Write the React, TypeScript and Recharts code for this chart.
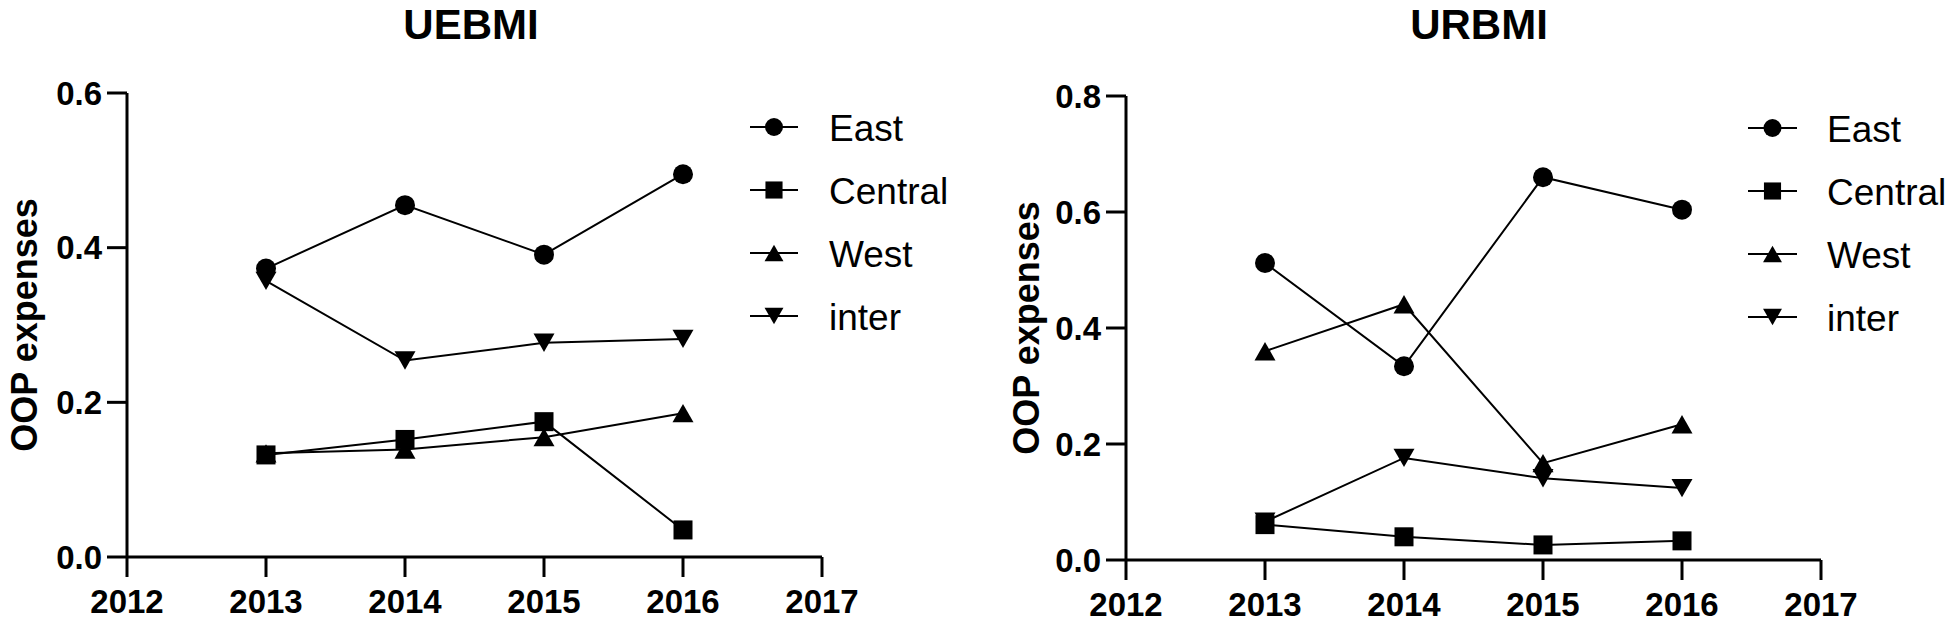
import React from 'react';
import { LineChart, Line, XAxis, YAxis, Label } from 'recharts';

const years = [2013, 2014, 2015, 2016];
const xTicks = [2012, 2013, 2014, 2015, 2016, 2017];
const seriesNames = ['East', 'Central', 'West', 'inter'];

const uebmiEast = [0.373, 0.455, 0.391, 0.495];
const uebmiCentral = [0.132, 0.152, 0.175, 0.035];
const uebmiWest = [0.134, 0.139, 0.155, 0.186];
const uebmiInter = [0.357, 0.254, 0.277, 0.282];
const uebmiYTicks = [0, 0.2, 0.4, 0.6];

const urbmiEast = [0.512, 0.334, 0.66, 0.604];
const urbmiCentral = [0.061, 0.04, 0.026, 0.033];
const urbmiWest = [0.36, 0.441, 0.167, 0.234];
const urbmiInter = [0.066, 0.176, 0.141, 0.124];
const urbmiYTicks = [0, 0.2, 0.4, 0.6, 0.8];

const FONT = '"Liberation Sans", Arial, Helvetica, sans-serif';

type Shape = 'circle' | 'square' | 'triangle' | 'triangleDown';
const shapes: Shape[] = ['circle', 'square', 'triangle', 'triangleDown'];

function buildRows(east: number[], central: number[], west: number[], inter: number[]) {
  return years.map((year, i) => ({
    year,
    East: east[i],
    Central: central[i],
    West: west[i],
    inter: inter[i],
  }));
}

const uebmiData = buildRows(uebmiEast, uebmiCentral, uebmiWest, uebmiInter);
const urbmiData = buildRows(urbmiEast, urbmiCentral, urbmiWest, urbmiInter);

function Marker({ cx, cy, shape, size }: { cx: number; cy: number; shape: Shape; size: number }) {
  const r = size / 2;
  if (cx == null || cy == null) return null;
  if (shape === 'circle') return <circle cx={cx} cy={cy} r={r} fill="#000" />;
  if (shape === 'square')
    return <rect x={cx - r * 0.95} y={cy - r * 0.95} width={size * 0.95} height={size * 0.95} fill="#000" />;
  const w = r * 1.05;
  const h = r * 0.92;
  if (shape === 'triangle')
    return <polygon points={`${cx},${cy - h} ${cx + w},${cy + h} ${cx - w},${cy + h}`} fill="#000" />;
  return <polygon points={`${cx},${cy + h} ${cx + w},${cy - h} ${cx - w},${cy - h}`} fill="#000" />;
}

const axisStroke = { stroke: '#000', strokeWidth: 3 };
const tickStyle = { fill: '#000', fontSize: 33, fontWeight: 'bold', fontFamily: FONT };

function Panel({
  data,
  yTicks,
  width,
  marginTop,
  marginRight,
  yAxisWidth,
  xAxisHeight,
  labelX,
}: {
  data: any[];
  yTicks: number[];
  width: number;
  marginTop: number;
  marginRight: number;
  yAxisWidth: number;
  xAxisHeight: number;
  labelX: number;
}) {
  const drawOrder = [3, 2, 1, 0];
  return (
    <LineChart width={width} height={622} data={data} margin={{ top: marginTop, right: marginRight, bottom: 0, left: 0 }}>
      <XAxis
        dataKey="year"
        type="number"
        domain={[xTicks[0], xTicks[xTicks.length - 1]]}
        ticks={xTicks}
        interval={0}
        height={xAxisHeight}
        axisLine={axisStroke}
        tickLine={axisStroke}
        tickSize={20}
        tickMargin={13}
        tick={tickStyle}
      />
      <YAxis
        type="number"
        domain={[yTicks[0], yTicks[yTicks.length - 1]]}
        ticks={yTicks}
        interval={0}
        width={yAxisWidth}
        axisLine={axisStroke}
        tickLine={axisStroke}
        tickSize={20}
        tickMargin={5}
        tick={tickStyle}
        tickFormatter={(v: number) => v.toFixed(1)}
      >
        <Label
          content={(props: any) => {
            const vb = props.viewBox || {};
            const cy = (vb.y ?? marginTop) + (vb.height ?? 460) / 2;
            const cx = labelX;
            return (
              <text
                x={cx}
                y={cy}
                transform={`rotate(-90 ${cx} ${cy})`}
                textAnchor="middle"
                fontSize={36}
                fontWeight="bold"
                fontFamily={FONT}
                fill="#000"
              >
                OOP expenses
              </text>
            );
          }}
        />
      </YAxis>
      {drawOrder.map((si) => (
        <Line
          key={seriesNames[si]}
          type="linear"
          dataKey={seriesNames[si]}
          stroke="#000"
          strokeWidth={2}
          isAnimationActive={false}
          activeDot={false}
          dot={(p: any) => <Marker key={`${seriesNames[si]}-${p.index}`} cx={p.cx} cy={p.cy} shape={shapes[si]} size={20} />}
        />
      ))}
    </LineChart>
  );
}

function LegendBlock({ lineX1, lineX2, textX, rowYs }: { lineX1: number; lineX2: number; textX: number; rowYs: number[] }) {
  const mx = (lineX1 + lineX2) / 2;
  return (
    <g>
      {seriesNames.map((name, i) => (
        <g key={name}>
          <line x1={lineX1} x2={lineX2} y1={rowYs[i]} y2={rowYs[i]} stroke="#000" strokeWidth={2} />
          <Marker cx={mx} cy={rowYs[i]} shape={shapes[i]} size={18} />
          <text x={textX} y={rowYs[i] + 14} fontSize={37} fontFamily={FONT} fill="#000">
            {name}
          </text>
        </g>
      ))}
    </g>
  );
}

export default function App() {
  return (
    <div style={{ position: 'absolute', left: 0, top: 0, width: 1946, height: 622, background: '#fff', overflow: 'hidden' }}>
      <div style={{ position: 'absolute', left: 0, top: 0 }}>
        <Panel data={uebmiData} yTicks={uebmiYTicks} width={980} marginTop={93} marginRight={158} yAxisWidth={127} xAxisHeight={65} labelX={37} />
      </div>
      <div style={{ position: 'absolute', left: 1000, top: 0 }}>
        <Panel data={urbmiData} yTicks={urbmiYTicks} width={946} marginTop={96} marginRight={125} yAxisWidth={126} xAxisHeight={62} labelX={39} />
      </div>
      <svg width={1946} height={622} style={{ position: 'absolute', left: 0, top: 0, pointerEvents: 'none' }}>
        <text x={471} y={39} textAnchor="middle" fontSize={42} fontWeight="bold" fontFamily={FONT} fill="#000">
          UEBMI
        </text>
        <text x={1479} y={39} textAnchor="middle" fontSize={42} fontWeight="bold" fontFamily={FONT} fill="#000">
          URBMI
        </text>
        <LegendBlock lineX1={750} lineX2={798} textX={829} rowYs={[127, 190, 253, 316]} />
        <LegendBlock lineX1={1748} lineX2={1797} textX={1827} rowYs={[128, 191, 254, 317]} />
      </svg>
    </div>
  );
}
